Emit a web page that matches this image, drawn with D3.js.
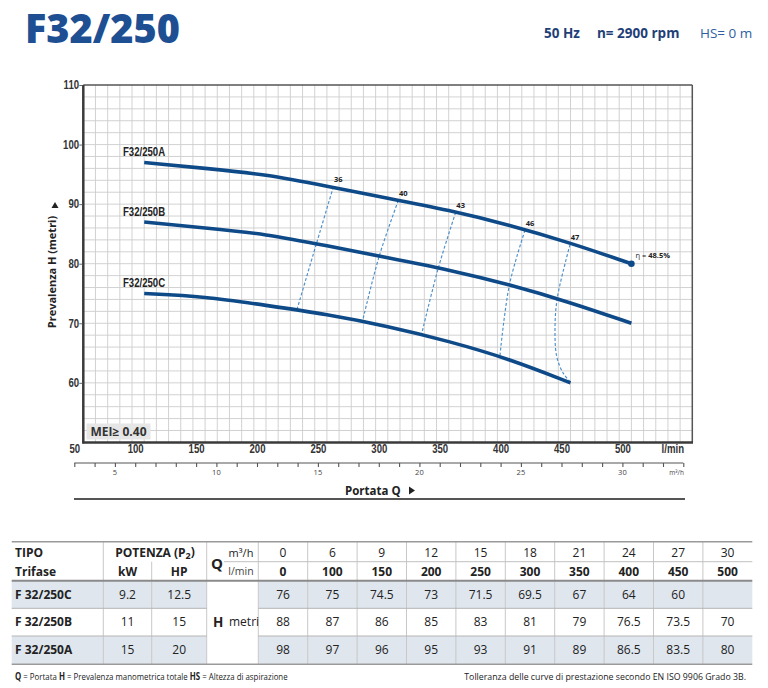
<!DOCTYPE html>
<html><head><meta charset="utf-8">
<script src="https://cdn.jsdelivr.net/npm/d3@7"></script>
<style>
html,body{margin:0;padding:0;background:#fff;}
svg{display:block;}
.narrow{font-family:'Liberation Sans',Arial,sans-serif;}
.os{font-family:'Open Sans','Noto Sans',sans-serif;}
</style></head>
<body>
<svg id="c" width="768" height="688"></svg>
<script>
// ---------- data ----------
const qLmin = [0, 100, 150, 200, 250, 300, 350, 400, 450, 500];
const qM3h  = [0, 6, 9, 12, 15, 18, 21, 24, 27, 30];
const models = ["F 32/250C", "F 32/250B", "F 32/250A"];
const curveNames = ["F32/250C", "F32/250B", "F32/250A"];
const powerKW = ["9.2", "11", "15"];
const powerHP = ["12.5", "15", "20"];
const headC = [76, 75, 74.5, 73, 71.5, 69.5, 67, 64, 60, null];
const headB = [88, 87, 86, 85, 83, 81, 79, 76.5, 73.5, 70];
const headA = [98, 97, 96, 95, 93, 91, 89, 86.5, 83.5, 80];
const effLabels = ["36", "40", "43", "46", "47"];
const eff36 = [[255.3, 92.9], [241.6, 83.5], [225.7, 72.5]];
const eff40 = [[308.6, 90.6], [293, 81.3], [279.4, 70.5]];
const eff43 = [[355.7, 88.6], [341.5, 79.3], [327.8, 68.2]];
const eff46 = [[412.6, 85.6], [399.8, 76.4], [392.1, 64.6]];
const eff47 = [[449.6, 83.2], [439.2, 74.3], [437.3, 69.4], [438.7, 64.4], [444.1, 61.6], [449.6, 60.2]];
const bestEff = "48.5%";
const yTicks = [60, 70, 80, 90, 100, 110];
const xTicks = [50, 100, 150, 200, 250, 300, 350, 400, 450, 500];
const m3hTicks = [5, 10, 15, 20, 25, 30];

// ---------- setup ----------
const svg = d3.select("#c");
const L = 83.3, R = 692.3, T = 85, B = 442.4;
const x = d3.scaleLinear().domain([50, 550]).range([L, R]);
const y = d3.scaleLinear().domain([50, 110]).range([B, T]);
const xLab = d3.scaleLinear().domain([50, 550]).range([74.3, 683.3]);
const q3 = d3.scaleLinear().domain([3, 33]).range([74.3, 683.3]);
const BLUE = "#0f4a88";
const SX = 0.8;

// header
svg.append("text").attr("class", "os").attr("x", 25).attr("y", 42.5)
  .attr("font-size", 41).attr("font-weight", 800).attr("fill", "#1d4f92")
  .attr("textLength", 155).attr("lengthAdjust", "spacingAndGlyphs").text("F32/250");
const hdr = svg.append("text").attr("class", "os").attr("y", 37.5).attr("font-size", 13.5);
hdr.append("tspan").attr("x", 544).attr("font-weight", 700).attr("fill", "#1f3f78").text("50 Hz");
hdr.append("tspan").attr("x", 597).attr("font-weight", 700).attr("fill", "#1f3f78").text("n= 2900 rpm");
hdr.append("tspan").attr("x", 700).attr("font-weight", 400).attr("fill", "#2f5fa0").text("HS= 0 m");

// grid
const g = svg.append("g");
g.selectAll(".vg").data(d3.range(60, 550, 10)).join("line")
  .attr("x1", d => x(d)).attr("x2", d => x(d)).attr("y1", T).attr("y2", B)
  .attr("stroke", "#cdcdcd").attr("stroke-width", 0.9);
g.selectAll(".hg").data(d3.range(52, 110, 2)).join("line")
  .attr("x1", L).attr("x2", R).attr("y1", d => y(d)).attr("y2", d => y(d))
  .attr("stroke", "#cdcdcd").attr("stroke-width", 0.9);

// frame
g.append("line").attr("x1", L).attr("x2", R).attr("y1", T).attr("y2", T).attr("stroke", "#555").attr("stroke-width", 1.5);
g.append("line").attr("x1", R).attr("x2", R).attr("y1", T).attr("y2", B).attr("stroke", "#555").attr("stroke-width", 1.5);
g.append("line").attr("x1", L).attr("x2", L).attr("y1", T).attr("y2", B + 1).attr("stroke", "#3a3a3a").attr("stroke-width", 2.5);
g.append("line").attr("x1", L - 1).attr("x2", R + 0.7).attr("y1", B).attr("y2", B).attr("stroke", "#3a3a3a").attr("stroke-width", 2.5);

// y axis
const yAx = svg.append("g").attr("transform", `translate(${L - 1},0)`)
  .call(d3.axisLeft(y).tickValues(yTicks).tickSize(3).tickPadding(1).tickFormat(d3.format("d")));
yAx.select(".domain").remove();
yAx.selectAll("line").attr("stroke", "#666");
yAx.selectAll("text").attr("class", "narrow").attr("font-size", 12).attr("font-weight", 700).attr("fill", "#333")
  .attr("transform", `scale(${SX},1)`);

svg.append("text").attr("class", "os").attr("transform", "translate(56,272) rotate(-90)")
  .attr("text-anchor", "middle").attr("font-size", 11).attr("font-weight", 700).attr("fill", "#222")
  .text("Prevalenza H  (metri)");
svg.append("path").attr("d", "M51.5,208 L58.5,208 L55,202 Z").attr("fill", "#222");

// x axis (l/min) labels
const xAx = svg.append("g").attr("transform", `translate(0,${B + 1})`)
  .call(d3.axisBottom(xLab).tickValues(xTicks).tickSize(0).tickPadding(1.5).tickFormat(d3.format("d")));
xAx.select(".domain").remove();
xAx.selectAll("text").attr("class", "narrow").attr("font-size", 12).attr("font-weight", 700).attr("fill", "#333")
  .attr("transform", `scale(${SX},1)`);
svg.append("text").attr("class", "narrow").attr("transform", `translate(684,452.5) scale(${SX},1)`)
  .attr("text-anchor", "end").attr("font-size", 12).attr("font-weight", 700).attr("fill", "#333").text("l/min");

// m3/h axis
const qAx = svg.append("g").attr("transform", "translate(0,463)")
  .call(d3.axisBottom(q3).tickValues(d3.range(3, 34, 1)).tickSize(4).tickFormat(""));
qAx.select(".domain").attr("d", `M${q3(3)},0H${q3(33)}`).attr("stroke", "#555").attr("stroke-width", 1.2);
qAx.selectAll("line").attr("stroke", "#555").attr("stroke-width", 1.1);
svg.append("g").selectAll("text").data(m3hTicks).join("text")
  .attr("class", "os").attr("x", d => q3(d)).attr("y", 474.5).attr("text-anchor", "middle")
  .attr("font-size", 7.5).attr("fill", "#444").text(d => d);
svg.append("text").attr("class", "os").attr("x", 684).attr("y", 474.5).attr("text-anchor", "end")
  .attr("font-size", 6.5).attr("fill", "#444").text("m³/h");

svg.append("text").attr("class", "os").attr("x", 345).attr("y", 495).attr("font-size", 11.5)
  .attr("font-weight", 700).attr("fill", "#222").text("Portata Q");
svg.append("path").attr("d", "M409,486.5 L409,494.5 L415,490.5 Z").attr("fill", "#222");
svg.append("line").attr("x1", 74).attr("x2", 685).attr("y1", 499).attr("y2", 499).attr("stroke", "#555").attr("stroke-width", 2.2);

// MEI box
svg.append("rect").attr("x", 86.5).attr("y", 423.5).attr("width", 64).attr("height", 16).attr("fill", "#e6e6e6");
svg.append("text").attr("class", "os").attr("x", 90.5).attr("y", 436).attr("font-size", 12)
  .attr("font-weight", 700).attr("fill", "#333").text("MEI≥ 0.40");

// efficiency curves
const effLine = d3.line().x(d => x(d[0])).y(d => y(d[1])).curve(d3.curveCatmullRom);
const effs = [eff36, eff40, eff43, eff46, eff47];
svg.append("g").selectAll("path").data(effs).join("path")
  .attr("d", effLine).attr("fill", "none").attr("stroke", "#4a8fcb")
  .attr("stroke-width", 1.15).attr("stroke-dasharray", "3,2");
svg.append("g").selectAll("text").data(effs).join("text")
  .attr("class", "os").attr("x", d => x(d[0][0]) + 5).attr("y", d => y(d[0][1]) - 4.5)
  .attr("text-anchor", "middle").attr("font-size", 7.5).attr("font-weight", 700).attr("fill", "#222")
  .text((d, i) => effLabels[i]);

// head curves
const heads = [headC, headB, headA];
const hLine = d3.line().x(d => x(d[0])).y(d => y(d[1])).curve(d3.curveBasis);
heads.forEach((h, i) => {
  const pts = qLmin.map((q, j) => [q, h[j]]).filter(p => p[0] >= 100 && p[1] != null);
  svg.append("path").attr("d", hLine(pts)).attr("fill", "none").attr("stroke", BLUE)
    .attr("stroke-width", 3.6).attr("stroke-linecap", "butt");
  svg.append("text").attr("class", "narrow")
    .attr("transform", `translate(123,${y(pts[0][1]) - 6.5}) scale(${SX},1)`)
    .attr("font-size", 12).attr("fill", "#222").attr("font-weight", 700).text(curveNames[i]);
});
const lastA = [qLmin[qLmin.length - 1], headA[headA.length - 1]];
svg.append("circle").attr("cx", x(lastA[0])).attr("cy", y(lastA[1])).attr("r", 3.3).attr("fill", BLUE);
const eta = svg.append("text").attr("class", "os").attr("x", x(lastA[0]) + 4).attr("y", y(lastA[1]) - 6)
  .attr("font-size", 7.5).attr("fill", "#222");
eta.append("tspan").text("η = ");
eta.append("tspan").attr("font-weight", 700).text(bestEff);

// ---------- table ----------
const tb = svg.append("g").attr("class", "os");
const tL = 11.7, tR = 752.3;
const colStart = 258.3, colW = (tR - colStart) / qLmin.length;
const rowTop = [580.7, 608.3, 636], rowH = 27.8;
const shaded = [true, false, true];
const cx = i => colStart + colW * (i + 0.5);
rowTop.forEach((rt, r) => {
  if (shaded[r]) {
    tb.append("rect").attr("x", tL).attr("y", rt).attr("width", 206.7 - tL).attr("height", rowH).attr("fill", "#dfe6ee");
    tb.append("rect").attr("x", colStart).attr("y", rt).attr("width", tR - colStart).attr("height", rowH).attr("fill", "#dfe6ee");
  }
});
// vertical lines
const vLines = [[103.3, 541.7, 664.3], [151.7, 561.7, 664.3], [206.7, 541.7, 664.3]]
  .concat(d3.range(0, qLmin.length).map(i => [colStart + colW * i, 541.7, 664.3]));
tb.selectAll(".vl").data(vLines).join("line")
  .attr("x1", d => d[0]).attr("x2", d => d[0]).attr("y1", d => d[1]).attr("y2", d => d[2])
  .attr("stroke", "#c8c8c8").attr("stroke-width", 1);
// horizontal lines
tb.append("line").attr("x1", tL).attr("x2", tR).attr("y1", 541.7).attr("y2", 541.7).attr("stroke", "#9a9a9a").attr("stroke-width", 1.5);
tb.append("line").attr("x1", 224).attr("x2", tR).attr("y1", 561.7).attr("y2", 561.7).attr("stroke", "#c0c0c0").attr("stroke-width", 1);
tb.append("line").attr("x1", tL).attr("x2", tR).attr("y1", 580.7).attr("y2", 580.7).attr("stroke", "#8a8a8a").attr("stroke-width", 2);
[608.3, 636].forEach(yy => {
  tb.append("line").attr("x1", tL).attr("x2", 206.7).attr("y1", yy).attr("y2", yy).attr("stroke", "#b5b5b5").attr("stroke-width", 1);
  tb.append("line").attr("x1", colStart).attr("x2", tR).attr("y1", yy).attr("y2", yy).attr("stroke", "#b5b5b5").attr("stroke-width", 1);
});
tb.append("line").attr("x1", tL).attr("x2", tR).attr("y1", 664.3).attr("y2", 664.3).attr("stroke", "#9a9a9a").attr("stroke-width", 1.5);

function txt(xx, yy, s, opts = {}) {
  return tb.append("text").attr("x", xx).attr("y", yy).attr("dy", "0.35em")
    .attr("text-anchor", opts.anchor || "middle").attr("font-size", opts.size || 12)
    .attr("font-weight", opts.bold ? 700 : 400).attr("fill", opts.fill || "#222").text(s);
}
txt(15, 552.7, "TIPO", {anchor: "start", bold: true});
txt(15, 571.7, "Trifase", {anchor: "start", bold: true});
const pot = txt(155, 552.7, "POTENZA (P", {bold: true});
pot.append("tspan").attr("font-size", 9).attr("dy", "0.2em").text("2");
pot.append("tspan").attr("dy", "-0.2em").text(")");
txt(127.5, 571.7, "kW", {bold: true});
txt(179.2, 571.7, "HP", {bold: true});
txt(217, 563.5, "Q", {bold: true, size: 15});
txt(241, 552.7, "m³/h", {size: 11});
txt(241, 571.7, "l/min", {size: 10.5, fill: "#444"});
qM3h.forEach((v, i) => txt(cx(i), 552.7, v, {size: 12}));
qLmin.forEach((v, i) => txt(cx(i), 571.7, v, {bold: true}));
models.forEach((m, r) => {
  const yy = rowTop[r] + rowH / 2;
  txt(15, yy, m, {anchor: "start", bold: true});
  txt(127.5, yy, powerKW[r]);
  txt(179.2, yy, powerHP[r]);
  heads[r].forEach((v, i) => { if (v != null) txt(cx(i), yy, v); });
});
txt(213, 622.2, "H", {anchor: "start", bold: true, size: 13.5});
txt(229, 622.2, "metri", {anchor: "start", size: 12});

// footnotes (horizontally scaled to the reference width)
function fitTo(sel, width, x0, y0, anchorEnd) {
  const w = sel.node().getComputedTextLength();
  const k = Math.min(1, width / w);
  sel.attr("transform", `translate(${x0},${y0}) scale(${k},1)`);
}
const fn = tb.append("text").attr("font-size", 9.8).attr("fill", "#222");
fn.append("tspan").attr("font-weight", 700).text("Q");
fn.append("tspan").text(" = Portata   ");
fn.append("tspan").attr("font-weight", 700).text("H");
fn.append("tspan").text(" = Prevalenza manometrica totale   ");
fn.append("tspan").attr("font-weight", 700).text("HS");
fn.append("tspan").text(" = Altezza di aspirazione");
fitTo(fn, 273, 15, 680);
const tol = tb.append("text").attr("text-anchor", "end").attr("font-size", 9.8)
  .attr("fill", "#222").text("Tolleranza delle curve di prestazione secondo EN ISO 9906 Grado 3B.");
fitTo(tol, 282, 746, 680);
</script>
</body></html>
